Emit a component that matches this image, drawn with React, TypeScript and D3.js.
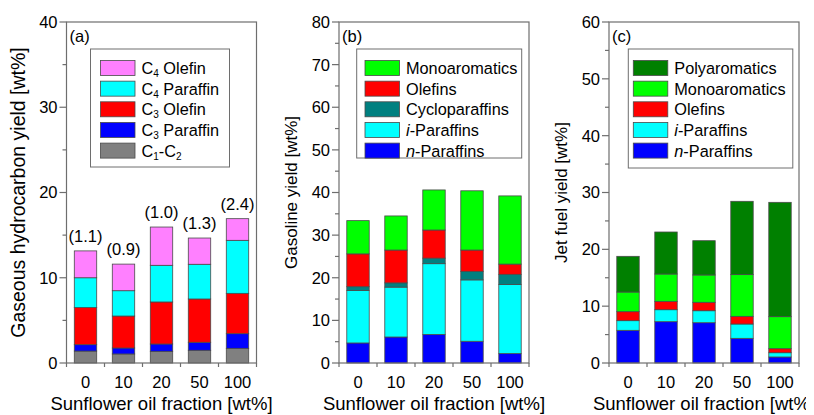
import React from 'react';
import * as d3 from 'd3';

// sunflower oil fraction [wt%]
const categories = ['0', '10', '20', '50', '100'];

// (a) gaseous hydrocarbons, stacked bottom -> top
const gasC1C2 = [1.4, 1.06, 1.37, 1.49, 1.72];
const gasC3Paraffin = [0.75, 0.7, 0.86, 0.94, 1.72];
const gasC3Olefin = [4.35, 3.75, 4.93, 5.08, 4.73];
const gasC4Paraffin = [3.5, 2.97, 4.3, 4.07, 6.22];
const gasC4Olefin = [3.15, 3.12, 4.49, 3.08, 2.54];
const gasRatioLabels = ['(1.1)', '(0.9)', '(1.0)', '(1.3)', '(2.4)'];

// (b) gasoline
const gasolineNParaffins = [4.7, 6.1, 6.7, 5.1, 2.2];
const gasolineIParaffins = [12.3, 11.7, 16.6, 14.4, 16.2];
const gasolineCycloparaffins = [0.9, 1.0, 1.3, 2.0, 2.4];
const gasolineOlefins = [7.7, 7.7, 6.6, 5.0, 2.4];
const gasolineMonoaromatics = [7.8, 8.0, 9.4, 13.9, 16.0];

// (c) jet fuel
const jetNParaffins = [5.75, 7.27, 7.09, 4.34, 1.06];
const jetIParaffins = [1.7, 2.11, 2.11, 2.52, 0.75];
const jetOlefins = [1.58, 1.47, 1.48, 1.35, 0.71];
const jetMonoaromatics = [3.46, 4.81, 4.81, 7.34, 5.63];
const jetPolyaromatics = [6.28, 7.39, 6.03, 12.9, 20.12];

const FONT = '"Liberation Sans", Arial, Helvetica, sans-serif';
const AXIS = '#6e6e6e';
const TOP = 22;
const BOTTOM = 363;
const W = 190;

// label segments: [text, style] where style is '' | 'sub' | 'it'
type Seg = [string, string];
type Series = { label: Seg[]; color: string; values: number[] };

const panels = [
  {
    tag: '(a)', left: 66.5, max: 40, title: 'Gaseous hydrocarbon yield [wt%]', titleSize: 19.5,
    legend: { dx: 24, w: 139, h: 118, sw: 10 },
    notes: gasRatioLabels,
    series: [
      { label: [['C', ''], ['1', 'sub'], ['-C', ''], ['2', 'sub']], color: '#808080', values: gasC1C2 },
      { label: [['C', ''], ['3', 'sub'], [' Paraffin', '']], color: '#0000ff', values: gasC3Paraffin },
      { label: [['C', ''], ['3', 'sub'], [' Olefin', '']], color: '#ff0000', values: gasC3Olefin },
      { label: [['C', ''], ['4', 'sub'], [' Paraffin', '']], color: '#00ffff', values: gasC4Paraffin },
      { label: [['C', ''], ['4', 'sub'], [' Olefin', '']], color: '#ff80ff', values: gasC4Olefin },
    ] as Series[],
  },
  {
    tag: '(b)', left: 339, max: 80, title: 'Gasoline yield [wt%]', titleSize: 17,
    legend: { dx: 17.7, w: 165, h: 109, sw: 8.3 },
    notes: null,
    series: [
      { label: [['n', 'it'], ['-Paraffins', '']], color: '#0000ff', values: gasolineNParaffins },
      { label: [['i', 'it'], ['-Paraffins', '']], color: '#00ffff', values: gasolineIParaffins },
      { label: [['Cycloparaffins', '']], color: '#008080', values: gasolineCycloparaffins },
      { label: [['Olefins', '']], color: '#ff0000', values: gasolineOlefins },
      { label: [['Monoaromatics', '']], color: '#00ff00', values: gasolineMonoaromatics },
    ] as Series[],
  },
  {
    tag: '(c)', left: 609, max: 60, title: 'Jet fuel yield [wt%]', titleSize: 17,
    legend: { dx: 19.3, w: 164.5, h: 119, sw: 5 },
    notes: null,
    series: [
      { label: [['n', 'it'], ['-Paraffins', '']], color: '#0000ff', values: jetNParaffins },
      { label: [['i', 'it'], ['-Paraffins', '']], color: '#00ffff', values: jetIParaffins },
      { label: [['Olefins', '']], color: '#ff0000', values: jetOlefins },
      { label: [['Monoaromatics', '']], color: '#00ff00', values: jetMonoaromatics },
      { label: [['Polyaromatics', '']], color: '#008000', values: jetPolyaromatics },
    ] as Series[],
  },
];

const Label = ({ segs }: { segs: Seg[] }) => (
  <>
    {segs.map(([t, s], i) => {
      const prevSub = i > 0 && segs[i - 1][1] === 'sub';
      if (s === 'sub') return <tspan key={i} fontSize={10} dy={3}>{t}</tspan>;
      return (
        <tspan key={i} dy={prevSub ? -3 : 0} fontStyle={s === 'it' ? 'italic' : 'normal'}>{t}</tspan>
      );
    })}
  </>
);

const Panel = ({ p }: { p: typeof panels[number] }) => {
  const x = d3.scaleBand().domain(categories).range([p.left, p.left + W]).paddingInner(0.41).paddingOuter(0.205);
  const y = d3.scaleLinear().domain([0, p.max]).range([BOTTOM, TOP]);
  const keys = p.series.map((_, i) => String(i));
  const rows = categories.map((c, ci) => {
    const r: any = { cat: c };
    p.series.forEach((s, si) => { r[si] = s.values[ci]; });
    return r;
  });
  const stacked = d3.stack<any>().keys(keys)(rows);
  const major = d3.range(0, p.max + 1, 10);
  const minor = d3.range(5, p.max, 10);
  const bounds = d3.range(0, categories.length + 1).map((i) => p.left + (W * i) / categories.length);
  const mid = (TOP + BOTTOM) / 2;
  const lg = p.legend;
  const lx = p.left + lg.dx;
  const legendOrder = [...p.series].reverse();

  return (
    <g>
      {stacked.map((layer, si) => (
        <g key={si} fill={p.series[si].color}>
          {layer.map((d, ci) => (
            <rect key={ci} x={x(categories[ci])} width={x.bandwidth()} y={y(d[1])} height={y(d[0]) - y(d[1])}
              stroke="#4a4a4a" strokeWidth={0.8} />
          ))}
        </g>
      ))}
      {p.notes && stacked[stacked.length - 1].map((d, ci) => (
        <text key={ci} x={x(categories[ci])! + x.bandwidth() / 2} y={y(d[1]) - 9} textAnchor="middle" fontSize={16.5}>
          {p.notes![ci]}
        </text>
      ))}
      <rect x={p.left} y={TOP} width={W} height={BOTTOM - TOP} fill="none" stroke={AXIS} strokeWidth={1.2} />
      {major.map((v) => (
        <g key={v}>
          <line x1={p.left - 7} x2={p.left} y1={y(v)} y2={y(v)} stroke={AXIS} strokeWidth={1.2} />
          <text x={p.left - 9} y={y(v)} dy="0.36em" textAnchor="end" fontSize={16.5}>{v}</text>
        </g>
      ))}
      {minor.map((v) => (
        <line key={v} x1={p.left - 4} x2={p.left} y1={y(v)} y2={y(v)} stroke={AXIS} strokeWidth={1.2} />
      ))}
      {bounds.map((bx, i) => (
        <line key={i} x1={bx} x2={bx} y1={BOTTOM} y2={BOTTOM + 4} stroke={AXIS} strokeWidth={1.2} />
      ))}
      {categories.map((c) => (
        <text key={c} x={x(c)! + x.bandwidth() / 2} y={388} textAnchor="middle" fontSize={16.5}>{c}</text>
      ))}
      <text x={p.left + W / 2} y={410} textAnchor="middle" fontSize={18.5}>Sunflower oil fraction [wt%]</text>
      <text transform={`translate(${p.left - 42},${mid}) rotate(-90)`} textAnchor="middle" fontSize={p.titleSize}>{p.title}</text>
      <text x={p.left + 3} y={42} fontSize={16.5}>{p.tag}</text>
      <rect x={lx} y={49} width={lg.w} height={lg.h} fill="#fff" stroke={AXIS} strokeWidth={1} />
      {legendOrder.map((s, i) => {
        const ry = 60.5 + i * 20.65;
        return (
          <g key={i}>
            <rect x={lx + lg.sw} y={ry} width={34.5} height={15} fill={s.color} stroke="#4a4a4a" strokeWidth={0.8} />
            <text x={lx + lg.sw + 41} y={ry + 13.5} fontSize={16.3}><Label segs={s.label} /></text>
          </g>
        );
      })}
    </g>
  );
};

export default function App() {
  return (
    <svg width={814} height={415} style={{ display: 'block', margin: '-8px 0 0 -8px' }} fontFamily={FONT}>
      <rect width={814} height={415} fill="#fff" />
      {panels.map((p) => <Panel key={p.tag} p={p} />)}
    </svg>
  );
}
